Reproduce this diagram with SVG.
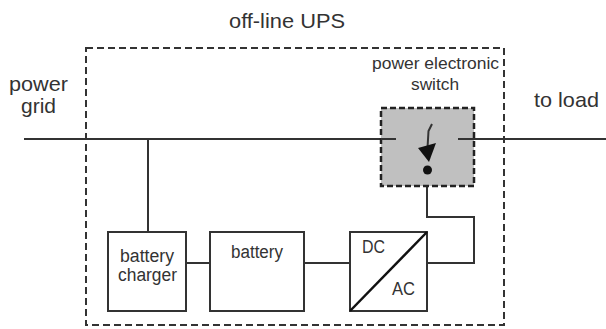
<svg xmlns="http://www.w3.org/2000/svg" width="606" height="329" viewBox="0 0 606 329">
<style>
text{font-family:"Liberation Sans",Arial,sans-serif;fill:#333}
.big{font-size:21px}
.sm{font-size:18px}
.box{fill:#fff;stroke:#333;stroke-width:2}
.ln{fill:none;stroke:#333;stroke-width:2}
.dash{fill:none;stroke:#333;stroke-width:2;stroke-dasharray:7 4}
</style>
<rect width="606" height="329" fill="#fff"/>
<g id="ups">
<rect class="dash" x="86" y="48" width="418" height="277"/>
<text class="big" x="229" y="28" textLength="116" lengthAdjust="spacingAndGlyphs">off-line UPS</text>
</g>
<text class="big" x="9" y="91" textLength="59" lengthAdjust="spacingAndGlyphs">power</text>
<text class="big" x="21" y="113" textLength="35" lengthAdjust="spacingAndGlyphs">grid</text>
<text class="big" x="534" y="107" textLength="65" lengthAdjust="spacingAndGlyphs">to load</text>
<g id="connectors">
<line class="ln" x1="24" y1="139" x2="396" y2="139"/>
<line class="ln" x1="458" y1="139" x2="606" y2="139"/>
<line class="ln" x1="148" y1="139" x2="148" y2="232"/>
<line class="ln" x1="186" y1="263" x2="210" y2="263"/>
<line class="ln" x1="304" y1="263" x2="350" y2="263"/>
<polyline class="ln" points="427,263 474,263 474,217 427,217 427,170"/>
</g>
<g id="switch">
<rect x="381" y="108" width="93" height="78" fill="#c0c0c0" stroke="#222" stroke-width="2.5" stroke-dasharray="6 3"/>
<line class="ln" x1="381" y1="139" x2="396" y2="139"/>
<line class="ln" x1="458" y1="139" x2="474" y2="139"/>
<polyline class="ln" points="432,124 428.5,131 427.5,148"/>
<polygon points="418,148 436,143 429,162" fill="#111"/>
<circle cx="427.5" cy="170" r="4.5" fill="#111"/>
<text x="372" y="69" style="font-size:16px" textLength="127" lengthAdjust="spacingAndGlyphs">power electronic</text>
<text x="411" y="90" style="font-size:16px" textLength="48" lengthAdjust="spacingAndGlyphs">switch</text>
</g>
<g id="charger">
<rect class="box" x="108" y="232" width="78" height="79"/>
<text class="sm" x="120" y="262" textLength="54" lengthAdjust="spacingAndGlyphs">battery</text>
<text class="sm" x="118" y="281" textLength="59" lengthAdjust="spacingAndGlyphs">charger</text>
</g>
<g id="battery">
<rect class="box" x="210" y="232" width="94" height="79"/>
<text class="sm" x="231" y="258" textLength="52" lengthAdjust="spacingAndGlyphs">battery</text>
</g>
<g id="dcac">
<rect class="box" x="350" y="232" width="77" height="79"/>
<line x1="350" y1="311" x2="427" y2="232" stroke="#111" stroke-width="2.5"/>
<text class="sm" x="362" y="253" textLength="23" lengthAdjust="spacingAndGlyphs">DC</text>
<text class="sm" x="392" y="295" textLength="23" lengthAdjust="spacingAndGlyphs">AC</text>
</g>
</svg>
